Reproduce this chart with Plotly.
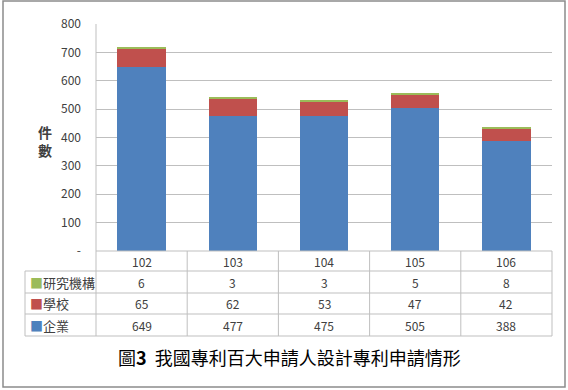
import plotly.graph_objects as go

W, H = 568, 390

categories = ["102", "103", "104", "105", "106"]
series_names = ["企業", "學校", "研究機構"]
enterprise = [649, 477, 475, 505, 388]
school = [65, 62, 53, 47, 42]
research = [6, 3, 3, 5, 8]
colors = ["#4F81BD", "#C0504D", "#9BBB59"]
y_ticks = [0, 100, 200, 300, 400, 500, 600, 700, 800]
y_ticktext = ["-"] + [str(v) for v in y_ticks[1:]]
title_text = "圖<b>3</b>  我國專利百大申請人設計專利申請情形"
FONT = "Noto Sans CJK TC"
TXT = "#404040"
GRID = "#BFBFBF"

def px(x):
    return x / W

def py(y):
    return 1 - y / H

# layout geometry (pixels)
plot_l, plot_r, plot_t, plot_b = 96, 552, 24, 251
row_lines = [251, 271, 293, 314, 336]
table_l = 25

fig = go.Figure()
values = [enterprise, school, research]
for name, vals, col in zip(series_names, values, colors):
    fig.add_trace(go.Bar(x=categories, y=vals, name=name, marker_color=col,
                         marker_line_width=0))

shapes = []
# outer border
shapes.append(dict(type="rect", xref="paper", yref="paper", x0=px(3), x1=px(565),
                   y0=py(1), y1=py(387), line=dict(color="#8C8C8C", width=1.5)))
# horizontal table lines
for i, yy in enumerate(row_lines):
    x0 = plot_l if i == 0 else table_l
    shapes.append(dict(type="line", xref="paper", yref="paper", x0=px(x0), x1=px(plot_r),
                       y0=py(yy), y1=py(yy), line=dict(color=GRID, width=1)))
# vertical lines
colw = (plot_r - plot_l) / len(categories)
for k in range(len(categories) + 1):
    xx = plot_l + k * colw
    top = plot_t if k == 0 else row_lines[0]
    shapes.append(dict(type="line", xref="paper", yref="paper", x0=px(xx), x1=px(xx),
                       y0=py(top), y1=py(row_lines[-1]), line=dict(color=GRID, width=1)))
shapes.append(dict(type="line", xref="paper", yref="paper", x0=px(table_l), x1=px(table_l),
                   y0=py(row_lines[1]), y1=py(row_lines[-1]), line=dict(color=GRID, width=1)))

annotations = []
# category row
for i, c in enumerate(categories):
    annotations.append(dict(x=i, xref="x", y=py((row_lines[0] + row_lines[1]) / 2), yref="paper",
                            xanchor="center", yanchor="middle",
                            text=c, showarrow=False, font=dict(size=12, color=TXT, family=FONT)))
# table rows: research, school, enterprise
table_rows = [("研究機構", research, colors[2]), ("學校", school, colors[1]), ("企業", enterprise, colors[0])]
for r, (name, vals, col) in enumerate(table_rows):
    yc = py((row_lines[r + 1] + row_lines[r + 2]) / 2)
    annotations.append(dict(x=px(table_l + 3), xref="paper", y=yc, yref="paper",
                            xanchor="left", yanchor="middle",
                            text=f'<span style="color:{col}">■</span>{name}', showarrow=False,
                            font=dict(size=13, color=TXT, family=FONT)))
    for i, v in enumerate(vals):
        annotations.append(dict(x=i, xref="x", y=yc, yref="paper", xanchor="center",
                                yanchor="middle", text=str(v), showarrow=False,
                                font=dict(size=12, color=TXT, family=FONT)))
# y axis title
annotations.append(dict(x=px(45), xref="paper", y=py(141), yref="paper", xanchor="center",
                        yanchor="middle", text="<b>件<br>數</b>",
                        showarrow=False, font=dict(size=14, color=TXT, family=FONT)))
# chart title
annotations.append(dict(x=px(289), xref="paper", y=py(357), yref="paper", xanchor="center",
                        yanchor="middle", text=title_text,
                        showarrow=False, font=dict(size=18, color="#000000", family=FONT)))

fig.update_layout(
    width=W, height=H, autosize=False,
    margin=dict(l=0, r=0, t=0, b=0, pad=0),
    paper_bgcolor="white", plot_bgcolor="white",
    barmode="stack", bargap=0.47, showlegend=False,
    font=dict(family=FONT, color=TXT),
    xaxis=dict(type="category", range=[-0.5, len(categories) - 0.5], autorange=False,
               domain=[px(plot_l), px(plot_r)], showticklabels=False,
               showgrid=False, zeroline=False, showline=False, ticks="", automargin=False),
    yaxis=dict(domain=[py(plot_b), py(plot_t)], range=[0, 800], tickvals=y_ticks,
               ticktext=y_ticktext, showgrid=True, gridcolor=GRID, gridwidth=1,
               zeroline=False, showline=False, ticks="", ticklabelstandoff=14, automargin=False,
               tickfont=dict(size=12, color=TXT, family=FONT)),
    shapes=shapes, annotations=annotations,
)

fig.write_html("out.html", config={"responsive": False, "displayModeBar": False},
               post_script="document.body.style.margin='0px';document.body.style.overflow='hidden';")
